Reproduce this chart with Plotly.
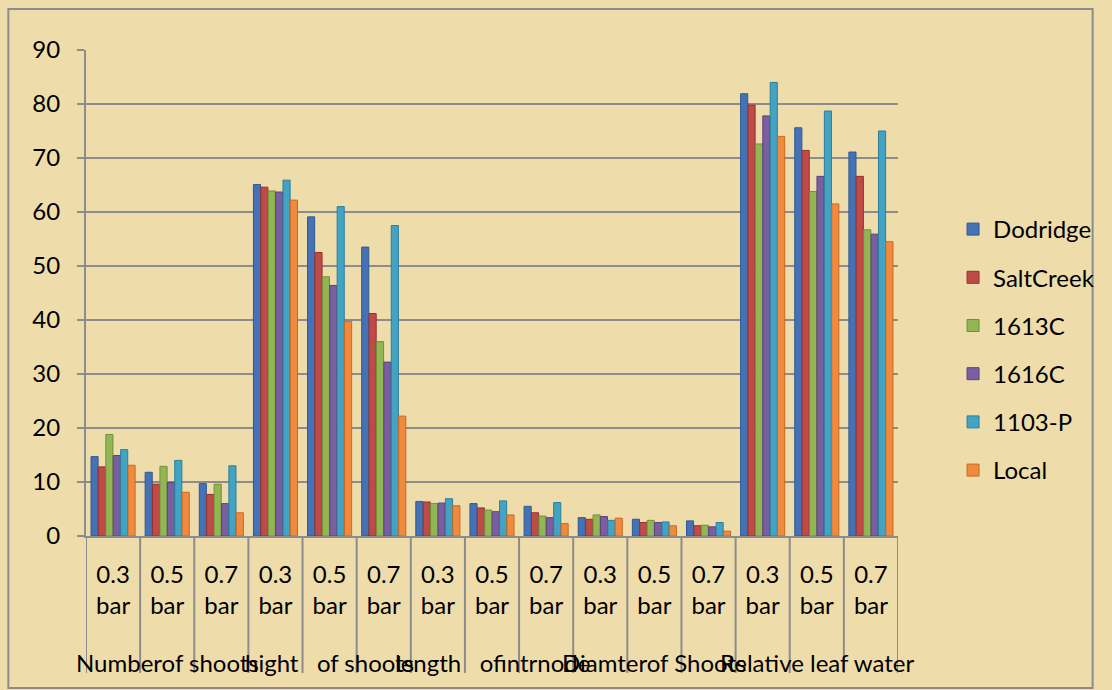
import plotly.graph_objects as go

# Category labels (inner level) and measurement groups (outer level)
pressures = ["0.3<br>bar", "0.5<br>bar", "0.7<br>bar"] * 5
groups = ["Numberof shoots", "hight   of shoots", "length   ofintrnode",
          "Diamterof Shoots", "Relative leaf water"]

# Series values, one per cultivar, in category order
dodridge = [14.7, 11.8, 9.7, 65.1, 59.1, 53.5, 6.4, 6.0, 5.5, 3.4, 3.1, 2.8, 81.9, 75.6, 71.1]
saltcreek = [12.8, 9.6, 7.7, 64.6, 52.5, 41.2, 6.3, 5.2, 4.3, 3.1, 2.5, 1.9, 79.8, 71.4, 66.6]
c1613 = [18.8, 12.9, 9.6, 63.9, 48.0, 36.0, 6.0, 4.8, 3.7, 3.9, 2.9, 2.0, 72.6, 63.8, 56.7]
c1616 = [14.9, 9.9, 6.0, 63.7, 46.4, 32.2, 6.1, 4.5, 3.4, 3.6, 2.5, 1.7, 77.8, 66.6, 55.9]
p1103 = [16.0, 14.0, 13.0, 65.9, 61.0, 57.5, 6.9, 6.5, 6.2, 2.9, 2.6, 2.5, 84.0, 78.7, 75.0]
local = [13.1, 8.1, 4.3, 62.2, 39.7, 22.2, 5.6, 3.9, 2.3, 3.3, 1.9, 0.9, 74.0, 61.5, 54.5]

y_ticks = [0, 10, 20, 30, 40, 50, 60, 70, 80, 90]

series = [
    ("Dodridge", dodridge, "#4472b4", "#2f5a92"),
    ("SaltCreek", saltcreek, "#be4b48", "#96312f"),
    ("1613C", c1613, "#93b654", "#6f8f37"),
    ("1616C", c1616, "#7a5fa0", "#5a4280"),
    ("1103-P", p1103, "#43a3c2", "#2a7f9b"),
    ("Local", local, "#f08a3e", "#c86a22"),
]

W, H = 1112, 690
L, R, T, B = 86, 912, 50, 536  # plot area in pixels


def px_x(p):
    return (p - L) / (R - L)


def px_y(p):
    return (B - p) / (B - T)


bg = "#efdcab"
grey = "#8c8c8c"
font = "Lato"
fs = 24

x = list(range(len(pressures)))

fig = go.Figure()
for i, (name, vals, col, edge) in enumerate(series):
    fig.add_trace(go.Bar(
        x=x, y=vals, name=name,
        marker=dict(color=col, line=dict(color=edge, width=1)),
        legendgroup=name,
    ))

shapes = []
# outer chart border
shapes.append(dict(type="rect", xref="paper", yref="paper",
                   x0=px_x(7), x1=px_x(1110), y0=px_y(688), y1=px_y(9),
                   line=dict(color=grey, width=2), fillcolor="rgba(0,0,0,0)",
                   layer="below"))
# category dividers below the axis
for k in range(len(pressures) + 1):
    shapes.append(dict(type="line", xref="x", yref="paper",
                       x0=k - 0.5, x1=k - 0.5, y0=px_y(538), y1=px_y(673),
                       line=dict(color=grey, width=2)))

annotations = []
for g, name in enumerate(groups):
    annotations.append(dict(x=3 * g + 1, y=px_y(662), xref="x", yref="paper",
                            text=name, showarrow=False,
                            font=dict(family=font, size=fs, color="#000"),
                            xanchor="center", yanchor="middle"))

fig.update_layout(
    width=W, height=H,
    margin=dict(l=L, r=W - R, t=T, b=H - B),
    paper_bgcolor=bg, plot_bgcolor=bg,
    barmode="group", bargap=0.18, bargroupgap=0.04,
    font=dict(family=font, size=fs, color="#000"),
    shapes=shapes, annotations=annotations,
    legend=dict(x=px_x(968), y=px_y(207), xanchor="left", yanchor="top",
                font=dict(family=font, size=fs), tracegroupgap=14,
                bgcolor="rgba(0,0,0,0)"),
    showlegend=True,
)
fig.update_xaxes(range=[-0.5, len(pressures) - 0.5], tickvals=x, ticktext=pressures,
                 showline=True, linecolor=grey, linewidth=2, ticks="",
                 showgrid=False, zeroline=False, ticklabelstandoff=16,
                 tickfont=dict(family=font, size=fs))
fig.update_yaxes(range=[0, 90], tickvals=y_ticks, showline=True, linecolor=grey,
                 linewidth=2, ticks="outside", ticklen=7, tickwidth=2, tickcolor=grey,
                 showgrid=True, gridcolor=grey, gridwidth=2, zeroline=False,
                 ticklabelstandoff=12, tickfont=dict(family=font, size=fs))

fig.write_html("out.html")
